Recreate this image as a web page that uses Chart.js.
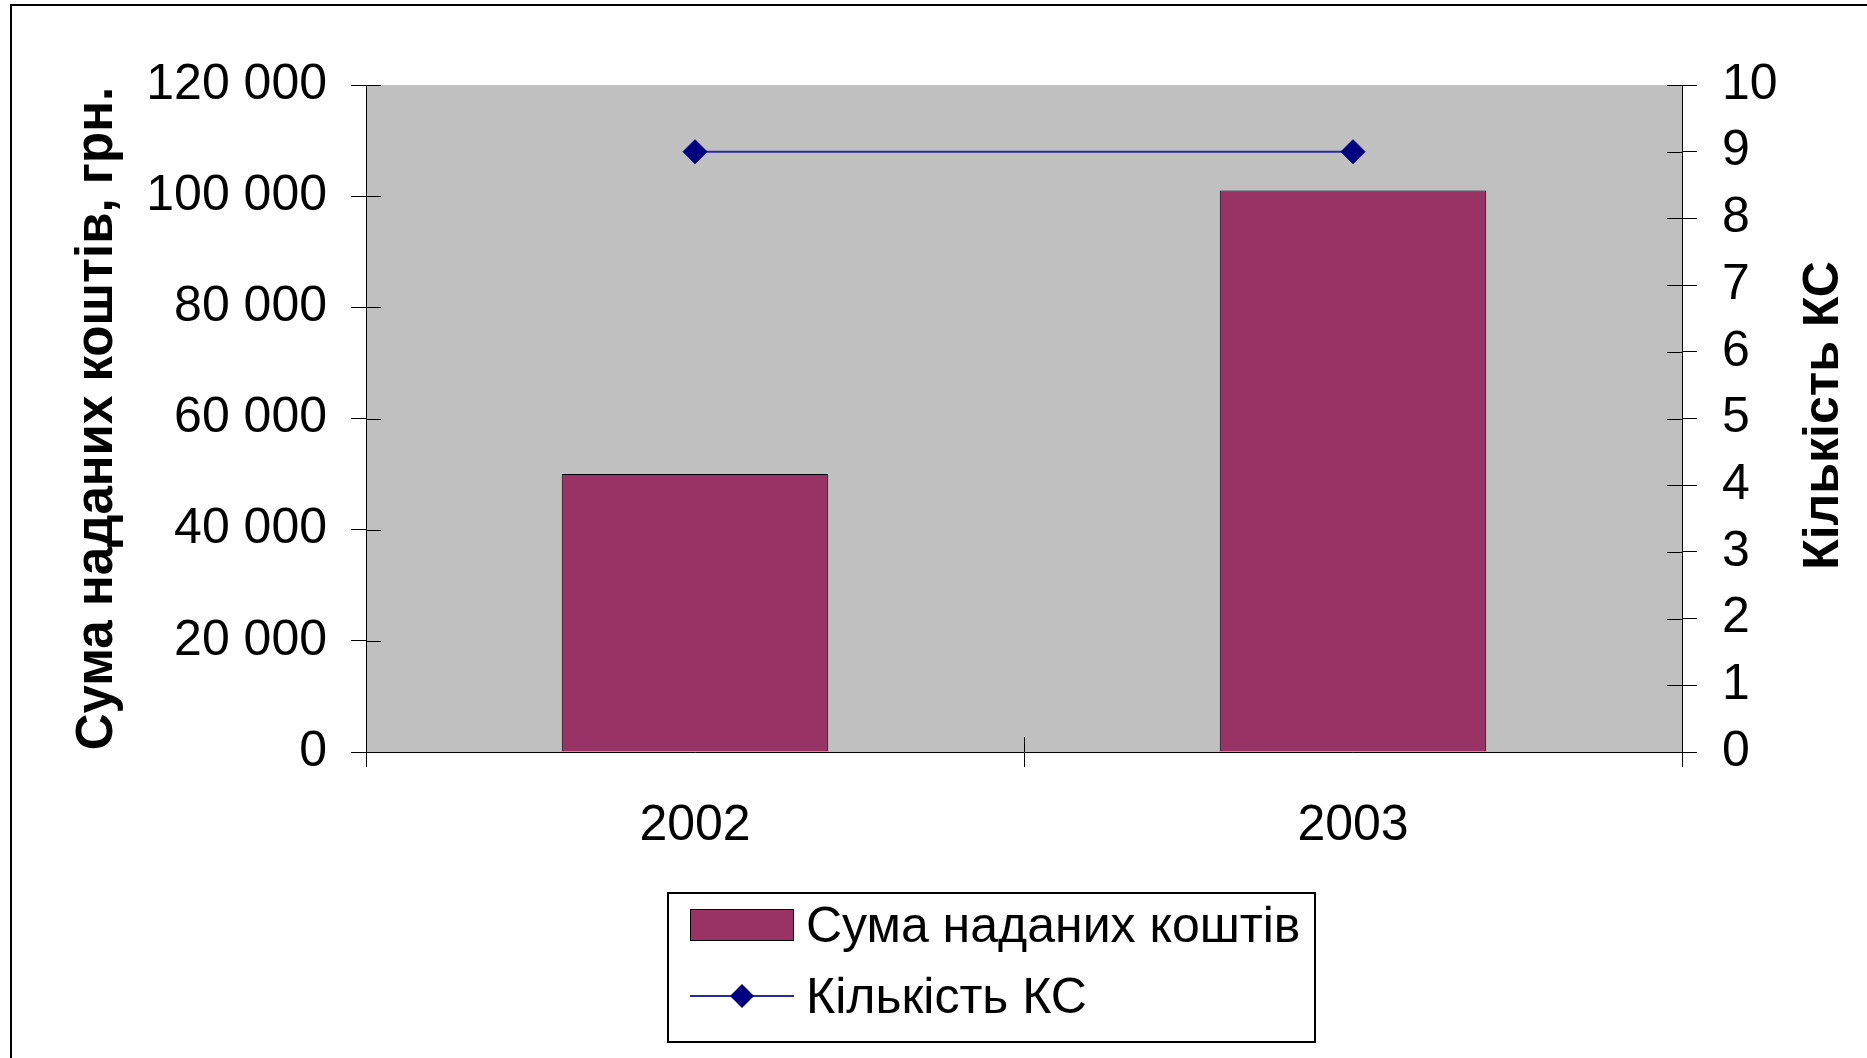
<!DOCTYPE html>
<html>
<head>
<meta charset="utf-8">
<script src="https://cdn.jsdelivr.net/npm/chart.js@4/dist/chart.umd.min.js"></script>
<style>
  body { margin: 0; background: #fff; }
  #wrap { position: relative; width: 1867px; height: 1058px; }
  #legenda {
    position: absolute; left: 667px; top: 892px; width: 645px; height: 147px;
    border: 2px solid #000; background: #fff;
    font-family: "Liberation Sans", Arial, sans-serif; font-size: 50px; color: #000;
  }
  .item { position: absolute; left: 21px; height: 60px; display: flex; align-items: center; }
  .item span { margin-left: 12px; white-space: nowrap; }
</style>
</head>
<body>
<div id="wrap">
  <canvas id="grafico" width="1867" height="1058"></canvas>
  <div id="legenda"></div>
</div>
<script>
// dados
const anos = ['2002', '2003'];
const sumaKoshtiv = [50000, 101000];
const kilkistKS = [9, 9];
const ticksEsquerda = [0, 20000, 40000, 60000, 80000, 100000, 120000];
const ticksDireita = [0, 1, 2, 3, 4, 5, 6, 7, 8, 9, 10];

const tituloEsq = 'Сума наданих коштів, грн.';
const tituloDir = 'Кількість КС';
const fonte = '"Liberation Sans", Arial, sans-serif';

// fundo cinza, moldura externa, traços cruzados e título da direita
const extras = {
  id: 'extras',
  beforeDraw(chart) {
    const ctx = chart.ctx;
    const a = chart.chartArea;
    ctx.save();
    ctx.fillStyle = '#fff';
    ctx.fillRect(0, 0, chart.width, chart.height);
    ctx.fillStyle = '#c0c0c0';
    ctx.fillRect(a.left, a.top, a.right - a.left, a.bottom - a.top);
    ctx.strokeStyle = '#000';
    ctx.lineWidth = 2;
    ctx.strokeRect(11, 5, chart.width + 20, chart.height + 20);
    ctx.restore();
  },
  afterDraw(chart) {
    const ctx = chart.ctx;
    const a = chart.chartArea;
    ctx.save();
    ctx.strokeStyle = '#000';
    ctx.lineWidth = 1;
    ctx.beginPath();
    chart.scales.y.ticks.forEach((t, i) => {
      const py = Math.round(chart.scales.y.getPixelForTick(i)) + 0.5;
      ctx.moveTo(a.left, py); ctx.lineTo(a.left + 15, py);
    });
    chart.scales.y1.ticks.forEach((t, i) => {
      const py = Math.round(chart.scales.y1.getPixelForTick(i)) + 0.5;
      ctx.moveTo(a.right - 15, py); ctx.lineTo(a.right, py);
    });
    const xs = chart.scales.x;
    for (let i = 0; i <= anos.length; i++) {
      const px = Math.round(xs.getPixelForValue(i - 0.5)) + 0.5;
      ctx.moveTo(px, a.bottom - 15); ctx.lineTo(px, a.bottom);
    }
    ctx.stroke();

    ctx.translate(1824, (a.top + a.bottom) / 2 - 3);
    ctx.rotate(-Math.PI / 2);
    ctx.font = 'bold 50px ' + fonte;
    ctx.fillStyle = '#000';
    ctx.textAlign = 'center';
    ctx.textBaseline = 'middle';
    ctx.fillText(tituloDir, 0, 0);
    ctx.restore();
  }
};

function milhares(v) {
  return String(v).replace(/\B(?=(\d{3})+(?!\d))/g, ' ');
}

const grafico = new Chart(document.getElementById('grafico'), {
  data: {
    labels: anos,
    datasets: [
      {
        type: 'line',
        label: 'Кількість КС',
        data: kilkistKS,
        yAxisID: 'y1',
        borderColor: '#2b2b98',
        borderWidth: 2,
        pointStyle: 'rectRot',
        pointRadius: 12,
        pointHoverRadius: 12,
        pointBackgroundColor: '#000080',
        pointBorderColor: '#000080',
        pointBorderWidth: 1,
        order: 0
      },
      {
        type: 'bar',
        label: 'Сума наданих коштів',
        data: sumaKoshtiv,
        yAxisID: 'y',
        backgroundColor: '#993366',
        borderColor: '#000',
        borderWidth: 1,
        categoryPercentage: 1,
        barPercentage: 0.405,
        order: 1
      }
    ]
  },
  options: {
    responsive: false,
    animation: false,
    layout: { padding: { left: 0, right: 0, top: 85, bottom: 206 } },
    plugins: { legend: { display: false }, tooltip: { enabled: false } },
    scales: {
      x: {
        offset: true,
        grid: { offset: true, drawOnChartArea: false, tickLength: 15, color: '#000' },
        border: { color: '#000', width: 1 },
        ticks: { color: '#000', font: { family: fonte, size: 50 }, padding: 29 },
        afterFit(s) { s.height = 100; }
      },
      y: {
        position: 'left',
        min: 0, max: 120000,
        afterBuildTicks(s) { s.ticks = ticksEsquerda.map(v => ({ value: v })); },
        grid: { drawOnChartArea: false, tickLength: 15, color: '#000' },
        border: { color: '#000', width: 1 },
        ticks: { color: '#000', font: { family: fonte, size: 50 }, padding: 24, callback: v => milhares(v) },
        title: { display: true, text: tituloEsq, color: '#000', font: { family: fonte, size: 51, weight: 'bold' }, padding: { top: 67 } },
        afterFit(s) { s.width = 366; }
      },
      y1: {
        position: 'right',
        min: 0, max: 10,
        afterBuildTicks(s) { s.ticks = ticksDireita.map(v => ({ value: v })); },
        grid: { drawOnChartArea: false, tickLength: 15, color: '#000' },
        border: { color: '#000', width: 1 },
        ticks: { color: '#000', font: { family: fonte, size: 50 }, padding: 25 },
        afterFit(s) { s.width = 185; }
      }
    }
  },
  plugins: [extras]
});

// legenda em HTML, a partir dos datasets
const legenda = document.getElementById('legenda');
const ordem = [1, 0];
ordem.forEach((idx, linha) => {
  const ds = grafico.data.datasets[idx];
  const item = document.createElement('div');
  item.classList.add('item');
  item.style.top = (linha === 0 ? 1 : 72) + 'px';
  const amostra = document.createElement('canvas');
  amostra.width = 104; amostra.height = 40;
  const c = amostra.getContext('2d');
  if (ds.type === 'bar') {
    c.fillStyle = ds.backgroundColor;
    c.fillRect(0.5, 4.5, 103, 31);
    c.strokeStyle = '#000'; c.lineWidth = 1;
    c.strokeRect(0.5, 4.5, 103, 31);
  } else {
    c.strokeStyle = ds.borderColor; c.lineWidth = 2;
    c.beginPath(); c.moveTo(0, 20); c.lineTo(104, 20); c.stroke();
    c.fillStyle = ds.pointBackgroundColor;
    c.beginPath(); c.moveTo(52, 8); c.lineTo(64, 20); c.lineTo(52, 32); c.lineTo(40, 20); c.closePath(); c.fill();
  }
  const texto = document.createElement('span');
  texto.textContent = ds.label;
  item.appendChild(amostra);
  item.appendChild(texto);
  legenda.appendChild(item);
});
</script>
</body>
</html>
